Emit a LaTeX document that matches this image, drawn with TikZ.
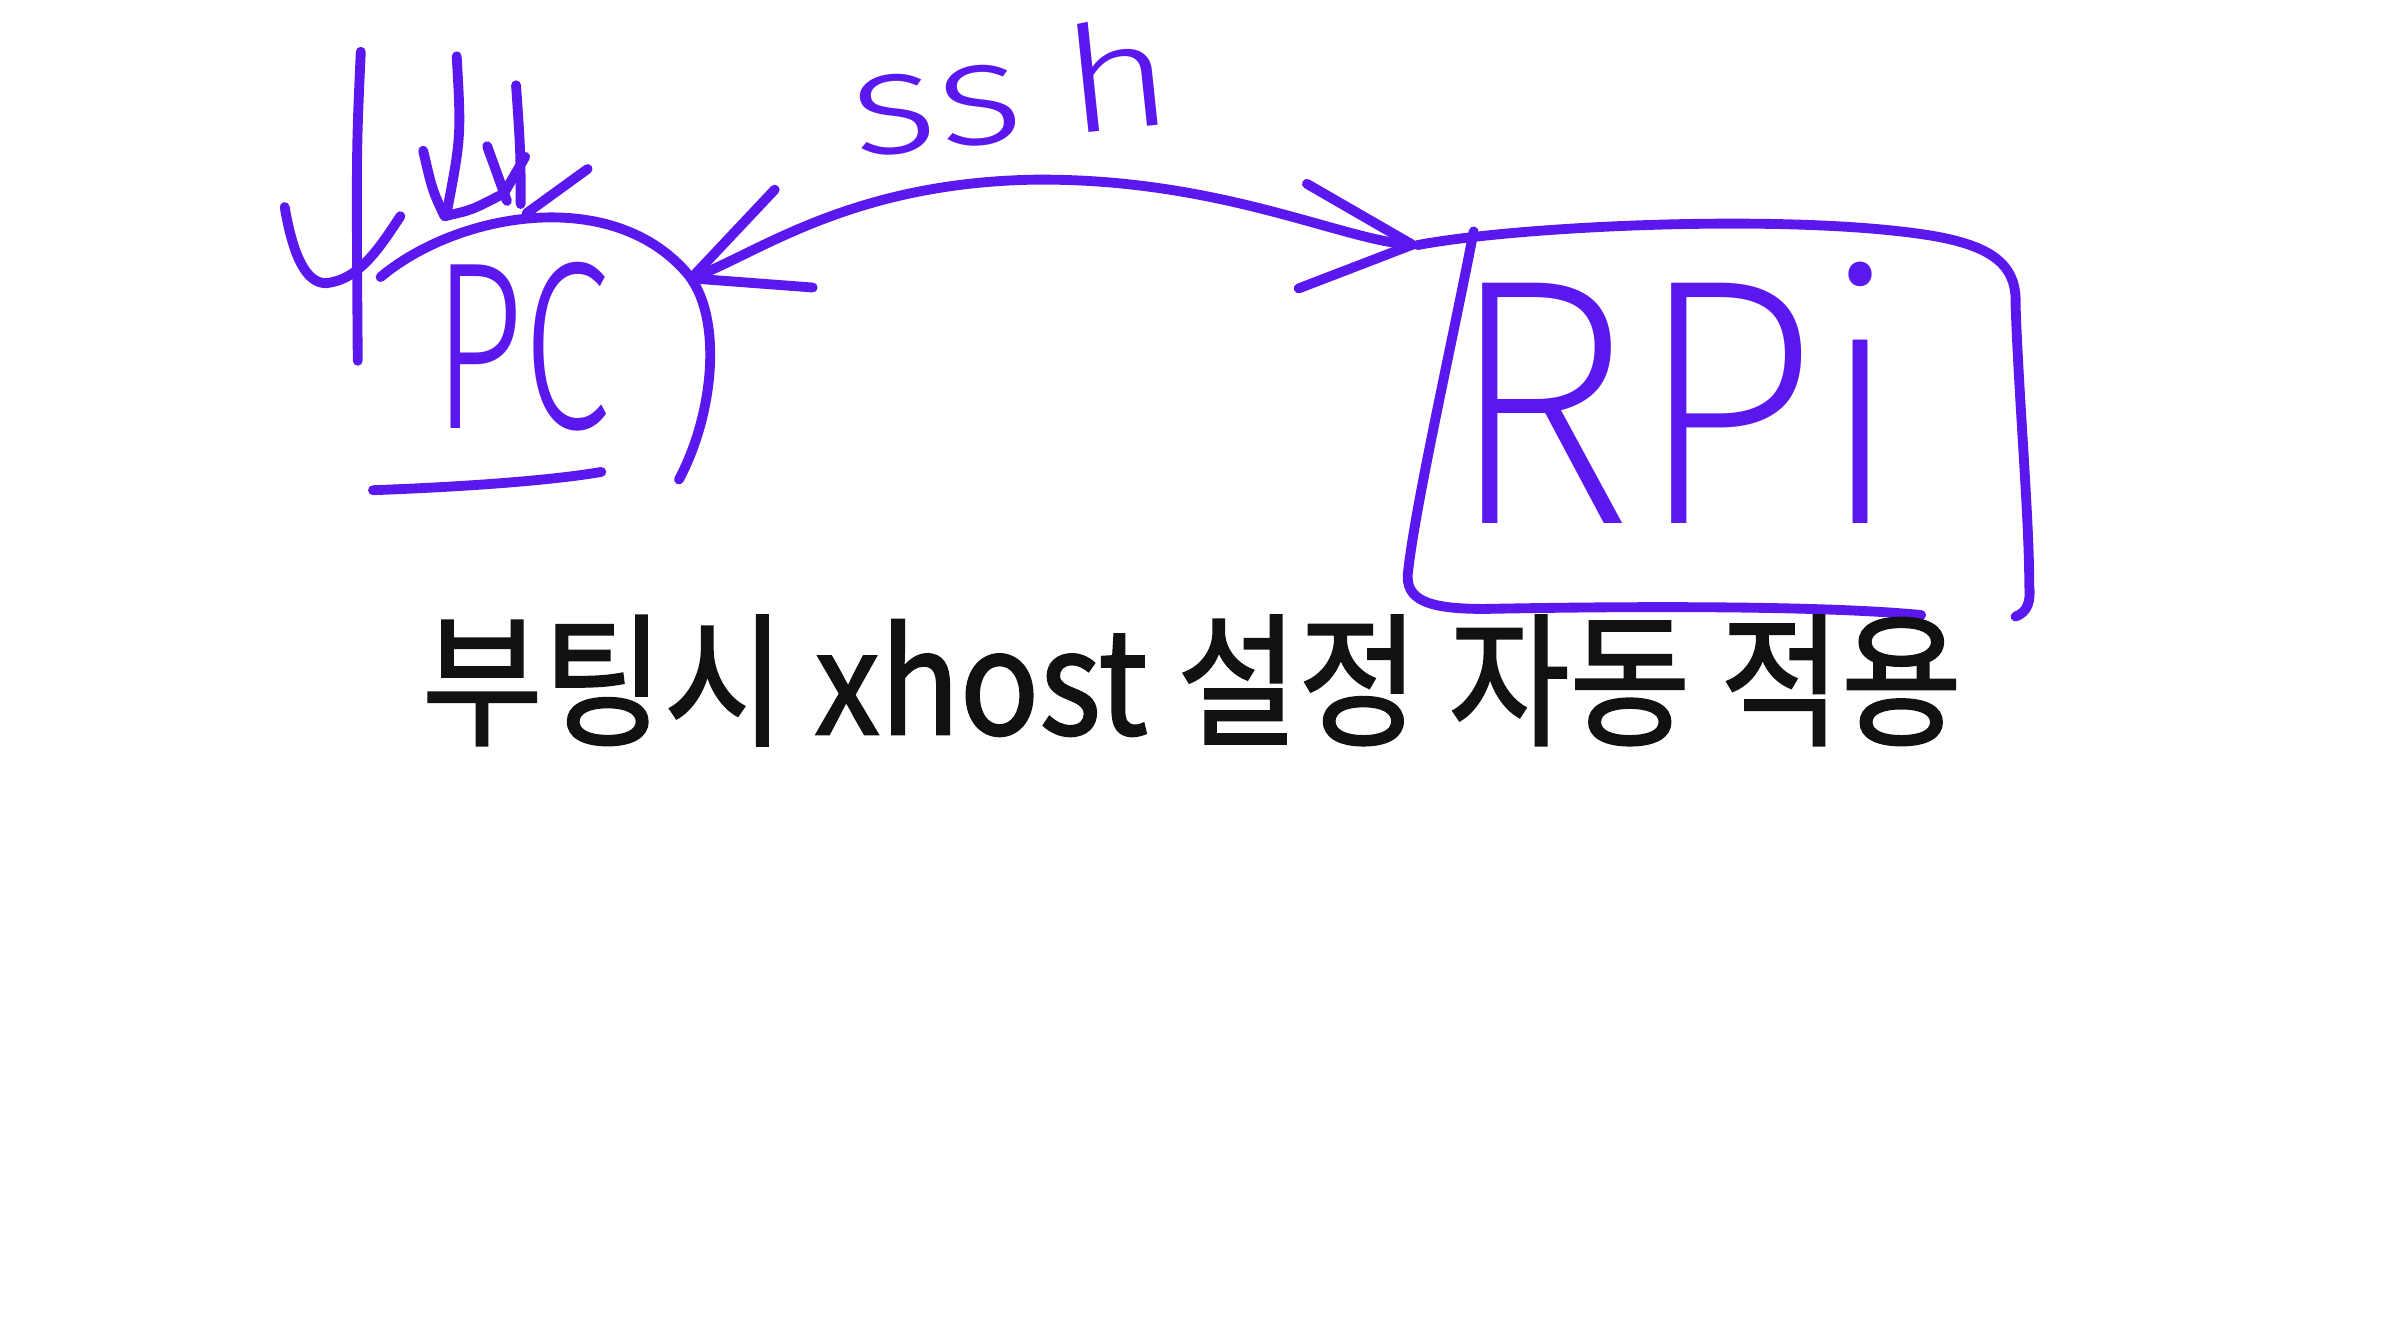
\documentclass[tikz,border=0pt]{standalone}
\usepackage{fontspec}
\usepackage{xcolor}
\usepackage{tikz}
\usetikzlibrary{arrows.meta}
\newfontfamily\handfont{Fira Sans Light}
\newfontfamily\handthin{Fira Sans ExtraLight}
\newfontfamily\krfont[FakeBold=1.5]{Noto Sans CJK KR}
\definecolor{pen-purple}{HTML}{5B18EE}
\definecolor{pen-black}{HTML}{111111}

\begin{document}
\begin{tikzpicture}[
    x=0.015223cm, y=-0.015223cm,
    ink/.style={draw=pen-purple, line width=2.8pt, line cap=round, line join=round},
    hand/.style={text=pen-purple, inner sep=0pt},
    link/.style={ink, {Straight Barb[length=1.1cm, width=1.05cm, round]}-{Straight Barb[length=1.1cm, width=1.05cm, round]}},
]
    \fill[white] (0, 0) rectangle (1568, 875);
    \useasboundingbox (0, 0) rectangle (1568, 875);

    % PC
    \node[hand, font=\handfont\fontsize{68}{68}\selectfont] (pc) at (343, 228) {\scalebox{0.66}[1]{PC}};
    \draw[ink] (250, 182) .. controls (300, 140) and (400, 122) .. (450, 178)
        .. controls (475, 205) and (470, 270) .. (446, 315);
    \draw[ink] (245, 322) .. controls (300, 320) and (360, 316) .. (395, 310);

    % scribble above PC
    \draw[ink] (237, 34) .. controls (234, 100) .. (235, 237);
    \draw[ink] (187, 136) .. controls (192, 165) and (200, 186) .. (214, 186)
        .. controls (235, 184) and (248, 165) .. (263, 142);
    \draw[ink] (300, 37) .. controls (303, 90) .. (293, 142);
    \draw[ink] (278, 99) .. controls (284, 125) .. (292, 142) .. controls (310, 138) .. (331, 127) -- (345, 103);
    \draw[ink] (320, 96) -- (333, 132);
    \draw[ink] (339, 56) .. controls (342, 100) .. (342, 134);
    \draw[ink] (386, 111) -- (346, 140);

    % RPi
    \node[hand, font=\handthin\fontsize{100}{100}\selectfont] (rpi) at (1100, 258) {\scalebox{0.92}[1]{RPi}};
    \coordinate (pc-port) at (451, 184);
    \coordinate (rpi-port) at (931, 161);
    \draw[ink] (rpi-port) .. controls (1000, 148) and (1180, 140) .. (1270, 155)
        .. controls (1310, 162) and (1325, 175) .. (1324, 200)
        .. controls (1326, 260) and (1333, 340) .. (1333, 385)
        .. controls (1334, 395) and (1332, 402) .. (1324, 405);
    \draw[ink] (968, 152) .. controls (955, 220) and (930, 330) .. (925, 375)
        .. controls (922, 395) and (940, 400) .. (975, 400)
        .. controls (1080, 398) and (1200, 398) .. (1262, 404);

    % ssh link
    \draw[link] (pc-port) .. controls (500, 165) and (560, 120) .. (680, 118)
        .. controls (800, 117) and (880, 157) .. (rpi-port);
    \node[hand, font=\handfont\fontsize{42}{42}\selectfont, rotate=6] (ssh) at (664, 57)
        {\scalebox{1.25}[1]{s\kern0pt s\kern10pt h}};

    % caption
    \node[inner sep=0pt, text=pen-black, font=\krfont\fontsize{41}{41}\selectfont] (caption) at (783, 447)
        {\scalebox{0.913}[1]{부팅시 xhost 설정 자동 적용}};
\end{tikzpicture}
\end{document}
